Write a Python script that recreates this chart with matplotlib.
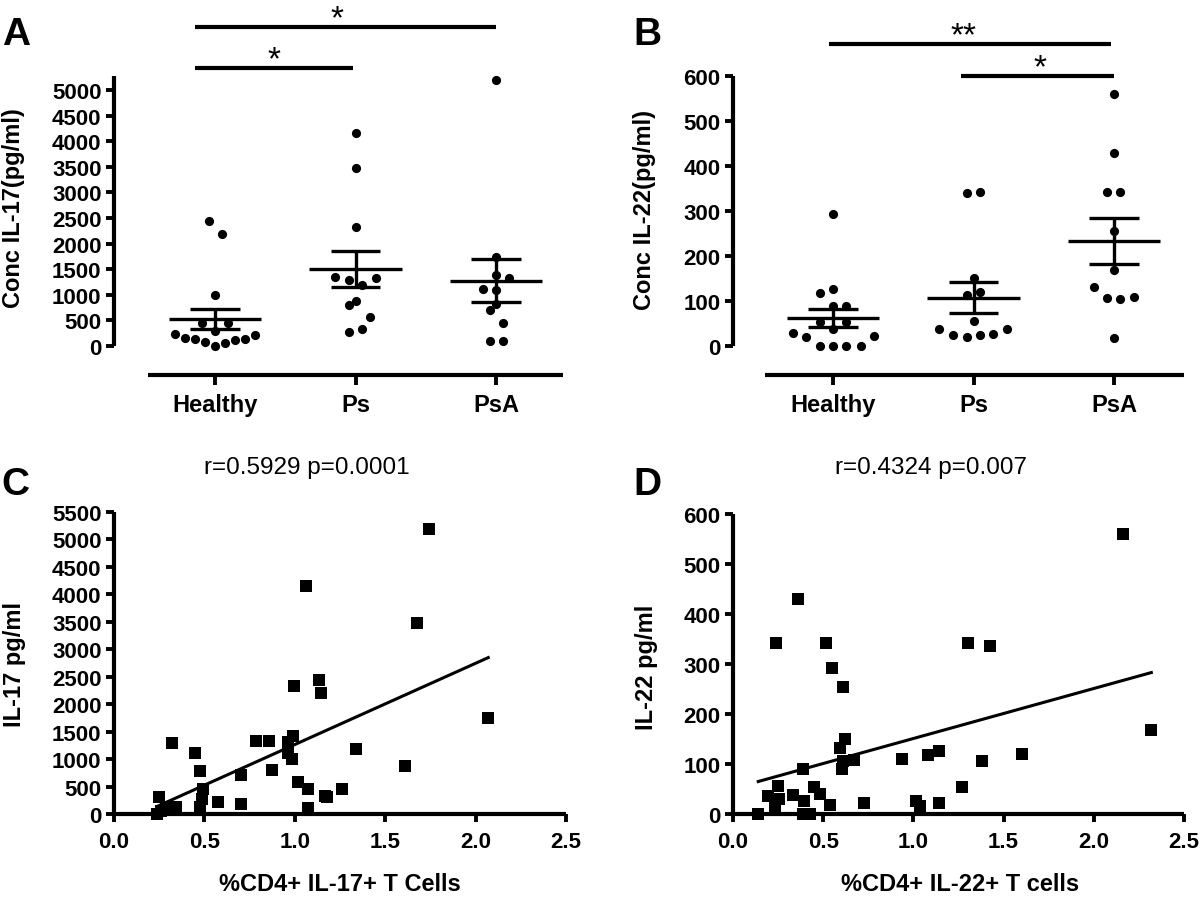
import numpy as np
import matplotlib
matplotlib.use('Agg')
import matplotlib.pyplot as plt

plt.rcParams['font.family'] = ['Liberation Sans', 'DejaVu Sans']
plt.rcParams['font.weight'] = 'bold'

W, H = 1200, 903

# ---------------- data ----------------
groups = ['Healthy', 'Ps', 'PsA']

il17_healthy = [2441, 2194, 996, 443, 456, 293, 241, 163, 130, 85, 0, 65, 117, 130, 208]
il17_healthy_dx = [-0.046, 0.049, 0, -0.095, 0.095, 0, -0.285, -0.213, -0.142, -0.071, 0, 0.071, 0.142, 0.213, 0.285]
il17_ps = [4153, 3483, 2324, 1354, 1282, 1185, 1335, 879, 794, 566, 280, 339]
il17_ps_dx = [0, 0, 0, -0.144, -0.049, 0.046, 0.147, 0, -0.049, 0.10, -0.049, 0.046]
il17_psa = [5195, 1738, 1387, 1335, 1120, 1087, 814, 703, 456, 98, 98]
il17_psa_dx = [0, 0, 0, 0.095, -0.095, 0, 0, -0.046, 0.049, -0.046, 0.049]

il22_healthy = [294, 117, 127, 90, 90, 54, 54, 38, 30, 19, 0, 0, 0, 0, 22]
il22_healthy_dx = [0, -0.095, 0, 0, 0.095, -0.095, 0.095, 0, -0.286, -0.19, -0.095, 0, 0.095, 0.196, 0.29]
il22_ps = [339, 343, 152, 113, 121, 56, 37, 24, 19, 24, 26, 37]
il22_ps_dx = [-0.049, 0.046, 0, -0.049, 0.046, 0, -0.245, -0.144, -0.049, 0.046, 0.142, 0.237]
il22_psa = [561, 430, 343, 343, 256, 168, 132, 107, 104, 109, 17]
il22_psa_dx = [0, 0, -0.049, 0.046, 0, 0, -0.144, -0.049, 0.046, 0.142, 0]

c_x = [1.742, 1.064, 1.678, 1.132, 1.144, 0.996, 2.070, 0.784, 0.858, 0.992, 0.964, 0.323,
       1.339, 0.448, 0.961, 0.983, 1.610, 0.873, 0.476, 0.701, 1.017, 1.071, 1.261, 0.494,
       1.165, 1.180, 0.251, 0.485, 0.577, 0.703, 0.476, 1.075, 0.236, 0.290, 0.345, 0.262, 0.320]
c_y = [5196, 4151, 3482, 2443, 2200, 2327, 1744, 1335, 1335, 1415, 1317, 1293,
       1185, 1111, 1111, 1002, 881, 807, 789, 716, 577, 455, 456, 455,
       334, 304, 304, 273, 225, 182, 121, 109, 0, 121, 121, 60, 90]
c_slope, c_intercept = 1480, -215
c_stats = 'r=0.5929 p=0.0001'

d_x = [2.160, 0.359, 0.238, 0.514, 1.300, 1.423, 0.550, 0.612, 2.319, 0.621, 0.593, 1.141,
       1.604, 1.081, 0.939, 0.671, 0.610, 1.381, 0.390, 0.602, 1.268, 0.251, 0.449, 0.482,
       0.331, 0.196, 0.257, 0.395, 1.017, 0.728, 1.141, 0.538, 1.034, 0.235, 0.140, 0.390, 0.426]
d_y = [560, 430, 343, 343, 343, 337, 293, 255, 168, 150, 133, 127,
       120, 118, 111, 109, 107, 107, 90, 90, 55, 57, 55, 40,
       38, 37, 30, 27, 27, 23, 23, 18, 17, 15, 0, 0, 0]
d_slope, d_intercept = 100, 51
d_stats = 'r=0.4324 p=0.007'

# ---------------- style ----------------
SPW = 3.0      # spine width (pt)
TW = 2.8       # tick width
TL = 6.0       # tick length
TFS = 16       # tick font size
LFS = 17       # axis label font size
MS_DOT = 6.6   # dot diameter (pt)
MS_SQ = 8.6    # square side (pt)


def rect(l, t, r, b):
    return [l / W, 1 - b / H, (r - l) / W, (b - t) / H]


def base_style(ax):
    for s in ['top', 'right']:
        ax.spines[s].set_visible(False)
    for s in ['left', 'bottom']:
        ax.spines[s].set_linewidth(SPW)
        ax.spines[s].set_capstyle('butt')
    ax.tick_params(width=TW, length=TL, labelsize=TFS, direction='out')
    ax.tick_params(axis='y', pad=3)
    ax.patch.set_alpha(0)


def dot_panel(ax, data, offsets):
    for i, (vals, dx) in enumerate(zip(data, offsets)):
        vals = np.asarray(vals, float)
        ax.scatter(i + np.asarray(dx), vals, s=MS_DOT ** 2, c='k', linewidths=0,
                   clip_on=False, zorder=3)
        m = vals.mean()
        se = vals.std(ddof=1) / np.sqrt(len(vals))
        ax.hlines(m, i - 0.33, i + 0.33, colors='k', lw=2.4, zorder=4)
        ax.vlines(i, m - se, m + se, colors='k', lw=2.4, zorder=4)
        ax.hlines([m - se, m + se], i - 0.175, i + 0.175, colors='k', lw=2.4, zorder=4)
    ax.set_xticks(range(len(groups)))
    ax.set_xticklabels(groups, fontsize=17)
    ax.tick_params(axis='x', length=7, pad=6)


def sig(ax, x0, x1, y, label, xs):
    ax.plot([x0, x1], [y, y], color='k', lw=3.0, solid_capstyle='butt', clip_on=False)
    ax.text(xs, y, label, ha='center', va='baseline', fontsize=24, fontweight='normal')


fig = plt.figure(figsize=(W / 100, H / 100), dpi=100)

# ----- Panel A -----
axA = fig.add_axes(rect(114, 0, 564, 376))
base_style(axA)
dot_panel(axA, [il17_healthy, il17_ps, il17_psa], [il17_healthy_dx, il17_ps_dx, il17_psa_dx])
pxA = 5000 / 256.0
axA.set_xlim((114 - 215) / 140.5, (564 - 215) / 140.5)
axA.set_ylim(-(376 - 347) * pxA, 347 * pxA)
axA.set_yticks(np.arange(0, 5001, 500))
axA.spines['left'].set_bounds(0, 5270)
axA.spines['bottom'].set_bounds(-0.48, 2.48)
sig(axA, -0.14, 0.98, (347 - 69) * pxA, '*', 0.42)
sig(axA, -0.14, 2.0, (347 - 28) * pxA, '*', 0.87)
fig.text(14 / W, 1 - 208 / H, 'Conc IL-17(pg/ml)', rotation=90, ha='center', va='center', fontsize=LFS)
fig.text(2 / W, 1 - 45 / H, 'A', fontsize=28, ha='left', va='baseline')

# ----- Panel B -----
axB = fig.add_axes(rect(733, 0, 1184, 376))
base_style(axB)
dot_panel(axB, [il22_healthy, il22_ps, il22_psa], [il22_healthy_dx, il22_ps_dx, il22_psa_dx])
pxB = 600 / 270.0
axB.set_xlim((733 - 833) / 140.5, (1184 - 833) / 140.5)
axB.set_ylim(-(376 - 347) * pxB, 347 * pxB)
axB.set_yticks(np.arange(0, 601, 100))
axB.spines['left'].set_bounds(0, 600)
axB.spines['bottom'].set_bounds(-0.484, 2.498)
sig(axB, -0.03, 1.98, (347 - 45) * pxB, '**', 0.93)
sig(axB, 0.91, 2.0, (347 - 77) * pxB, '*', 1.47)
fig.text(644 / W, 1 - 210 / H, 'Conc IL-22(pg/ml)', rotation=90, ha='center', va='center', fontsize=LFS)
fig.text(633 / W, 1 - 45 / H, 'B', fontsize=28, ha='left', va='baseline')

# ----- Panel C -----
axC = fig.add_axes(rect(114, 513, 566, 815))
base_style(axC)
axC.scatter(c_x, c_y, marker='s', s=MS_SQ ** 2, c='k', linewidths=0, clip_on=False, zorder=3)
xc = np.array([min(c_x), max(c_x)])
axC.plot(xc, c_slope * xc + c_intercept, color='k', lw=2.2, zorder=4)
axC.set_xlim(0, 2.5)
axC.set_ylim(0, 5500)
axC.set_xticks(np.arange(0, 2.51, 0.5))
axC.set_xticklabels([f'{v:.1f}' for v in np.arange(0, 2.51, 0.5)])
axC.set_yticks(np.arange(0, 5501, 500))
axC.tick_params(axis='x', pad=6)
fig.text(340 / W, 1 - 885 / H, '%CD4+ IL-17+ T Cells', ha='center', va='center', fontsize=LFS)
fig.text(15 / W, 1 - 665 / H, 'IL-17 pg/ml', rotation=90, ha='center', va='center', fontsize=LFS)
fig.text(307 / W, 1 - 468 / H, c_stats, ha='center', va='center', fontsize=17.5, fontweight='normal')
fig.text(1 / W, 1 - 495 / H, 'C', fontsize=28, ha='left', va='baseline')

# ----- Panel D -----
axD = fig.add_axes(rect(733, 515, 1184, 815))
base_style(axD)
axD.scatter(d_x, d_y, marker='s', s=MS_SQ ** 2, c='k', linewidths=0, clip_on=False, zorder=3)
xd = np.array([min(d_x), max(d_x)])
axD.plot(xd, d_slope * xd + d_intercept, color='k', lw=2.2, zorder=4)
axD.set_xlim(0, 2.5)
axD.set_ylim(0, 600)
axD.set_xticks(np.arange(0, 2.51, 0.5))
axD.set_xticklabels([f'{v:.1f}' for v in np.arange(0, 2.51, 0.5)])
axD.set_yticks(np.arange(0, 601, 100))
axD.tick_params(axis='x', pad=6)
fig.text(960 / W, 1 - 885 / H, '%CD4+ IL-22+ T cells', ha='center', va='center', fontsize=LFS)
fig.text(646 / W, 1 - 667 / H, 'IL-22 pg/ml', rotation=90, ha='center', va='center', fontsize=LFS)
fig.text(931 / W, 1 - 468 / H, d_stats, ha='center', va='center', fontsize=17.5, fontweight='normal')
fig.text(633 / W, 1 - 495 / H, 'D', fontsize=28, ha='left', va='baseline')

fig.savefig('out.png', dpi=100)
